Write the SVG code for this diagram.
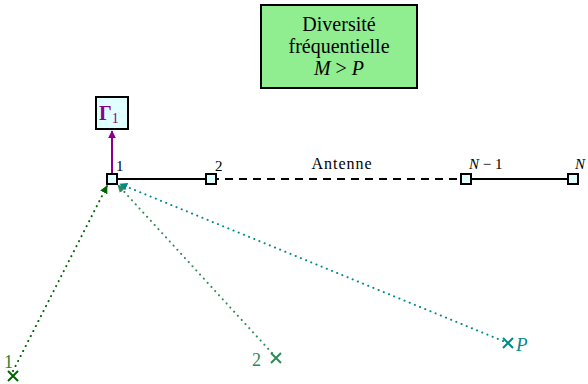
<svg xmlns="http://www.w3.org/2000/svg" width="588" height="384" viewBox="0 0 588 384">
<style>
text{font-family:"Liberation Serif","DejaVu Serif",serif;fill:#000}
.box{font-size:20px}
.lbl{font-size:15px}
.ant{fill:#e0ffff;stroke:#000;stroke-width:2}
.usr{fill:none;stroke-width:2}
.dot{fill:none;stroke-width:2;stroke-dasharray:0.1 5.5;stroke-linecap:round}
</style>
<defs>
<marker id="ap" viewBox="0 0 10 10" refX="9" refY="5" markerWidth="4" markerHeight="4" orient="auto"><path d="M0,0 L10,5 L0,10 Z" fill="#8b008b"/></marker>
<marker id="ag1" viewBox="0 0 10 10" refX="9" refY="5" markerWidth="4" markerHeight="4" orient="auto"><path d="M0,0 L10,5 L0,10 Z" fill="#006400"/></marker>
<marker id="ag2" viewBox="0 0 10 10" refX="9" refY="5" markerWidth="4" markerHeight="4" orient="auto"><path d="M0,0 L10,5 L0,10 Z" fill="#2e8b57"/></marker>
<marker id="ag3" viewBox="0 0 10 10" refX="9" refY="5" markerWidth="4" markerHeight="4" orient="auto"><path d="M0,0 L10,5 L0,10 Z" fill="#008b8b"/></marker>
</defs>
<g id="connectors">
<line x1="112" y1="179" x2="211" y2="179" stroke="#000" stroke-width="2"/>
<line x1="211" y1="179" x2="466" y2="179" stroke="#000" stroke-width="2" stroke-dasharray="8 6"/>
<line x1="466" y1="179" x2="573" y2="179" stroke="#000" stroke-width="2"/>
<line x1="112" y1="173" x2="112" y2="131" stroke="#8b008b" stroke-width="2" marker-end="url(#ap)"/>
<line class="dot" x1="13" y1="371" x2="107" y2="186" stroke="#006400" marker-end="url(#ag1)"/>
<line class="dot" x1="272" y1="353" x2="118" y2="185" stroke="#2e8b57" marker-end="url(#ag2)"/>
<line class="dot" x1="503" y1="341" x2="120" y2="184" stroke="#008b8b" marker-end="url(#ag3)"/>
</g>
<g id="diversity">
<rect x="261" y="5" width="156" height="83" fill="#90ee90" stroke="#000" stroke-width="2"/>
<text class="box" x="339" y="31" text-anchor="middle">Diversité</text>
<text class="box" x="339" y="53" text-anchor="middle">fréquentielle</text>
<text class="box" x="339" y="75" text-anchor="middle"><tspan font-style="italic">M</tspan>&#160;&gt;&#160;<tspan font-style="italic">P</tspan></text>
</g>
<g id="gamma">
<rect x="96" y="97" width="32" height="32" fill="#e0ffff" stroke="#000" stroke-width="2"/>
<text x="99" y="120" font-size="20" font-weight="bold" style="fill:#8b008b">Γ<tspan font-size="14" font-weight="normal" dy="3">1</tspan></text>
</g>
<g id="antenna">
<rect class="ant" x="107" y="174" width="10" height="10"/>
<rect class="ant" x="206" y="174" width="10" height="10"/>
<rect class="ant" x="461" y="174" width="10" height="10"/>
<rect class="ant" x="568" y="174" width="10" height="10"/>
<text class="lbl" x="116" y="171">1</text>
<text class="lbl" x="215" y="171">2</text>
<text class="lbl" x="469" y="169"><tspan font-style="italic">N</tspan> − 1</text>
<text class="lbl" x="575" y="169" font-style="italic">N</text>
<text x="342" y="169" font-size="16" letter-spacing="1" text-anchor="middle">Antenne</text>
</g>
<g id="user1">
<path class="usr" d="M8,371 L18,381 M18,371 L8,381" stroke="#006400"/>
<text x="4" y="368" font-size="18" style="fill:#2e7d32">1</text>
</g>
<g id="user2">
<path class="usr" d="M271,353 L281,363 M281,353 L271,363" stroke="#2e8b57"/>
<text x="252" y="366" font-size="18" style="fill:#2e8b57">2</text>
</g>
<g id="userP">
<path class="usr" d="M503,338 L513,348 M513,338 L503,348" stroke="#008b8b"/>
<text x="516" y="351" font-size="19" font-style="italic" style="fill:#008b8b">P</text>
</g>
</svg>
